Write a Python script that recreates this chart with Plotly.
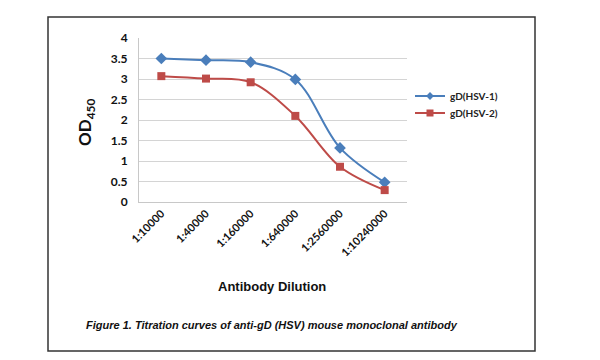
import plotly.graph_objects as go

dilutions = ["1:10000", "1:40000", "1:160000", "1:640000", "1:2560000", "1:10240000"]
hsv1 = [3.50, 3.46, 3.41, 2.99, 1.32, 0.48]
hsv2 = [3.07, 3.01, 2.92, 2.10, 0.86, 0.29]
y_ticks = [0, 0.5, 1, 1.5, 2, 2.5, 3, 3.5, 4]
y_tick_labels = ["0", "0.5", "1", "1.5", "2", "2.5", "3", "3.5", "4"]

# page body has an 8px margin; work in reference pixel coords and shift
OFF = 8
W, H = 600 - OFF, 360 - OFF
L, R, T, B = 139 - OFF, 407 - OFF, 38 - OFF, 202 - OFF


def px(x):
    return (x - OFF - L) / (R - L)


def py(y):
    return (B - (y - OFF)) / (B - T)


BLUE = "#4A7EBB"
RED = "#BE4B48"

fig = go.Figure()
fig.add_trace(go.Scatter(
    x=dilutions, y=hsv1, name="gD(HSV-1)", mode="lines+markers", showlegend=False,
    line=dict(color=BLUE, width=2, shape="spline", smoothing=1),
    marker=dict(symbol="diamond", size=9, color=BLUE),
))
fig.add_trace(go.Scatter(
    x=dilutions, y=hsv2, name="gD(HSV-2)", mode="lines+markers", showlegend=False,
    line=dict(color=RED, width=2, shape="spline", smoothing=1),
    marker=dict(symbol="square", size=8, color=RED),
))
# legend entries with smaller symbols, as in the reference
fig.add_trace(go.Scatter(
    x=[None], y=[None], name="gD(HSV-1)", mode="lines+markers", legend="legend",
    line=dict(color=BLUE, width=2), marker=dict(symbol="diamond", size=6, color=BLUE),
))
fig.add_trace(go.Scatter(
    x=[None], y=[None], name="gD(HSV-2)", mode="lines+markers", legend="legend2",
    line=dict(color=RED, width=2), marker=dict(symbol="square", size=7, color=RED),
))

legend_common = dict(xanchor="left", yanchor="middle",
                     font=dict(family="Lato", size=10, color="#222", weight="bold"),
                     bgcolor="rgba(0,0,0,0)", itemwidth=30)

fig.update_layout(
    width=W, height=H,
    margin=dict(l=L, r=W - R, t=T, b=H - B),
    paper_bgcolor="white", plot_bgcolor="white",
    showlegend=True,
    legend=dict(x=px(410), y=py(96), **legend_common),
    legend2=dict(x=px(410), y=py(113), **legend_common),
    xaxis=dict(type="category", range=[-0.5, 5.5], tickangle=-45,
               tickvals=dilutions, ticktext=["<b>%s</b>" % d for d in dilutions],
               tickfont=dict(family="Lato", size=11, color="#111"),
               showgrid=False, showline=True, linecolor="#C8C8C8", linewidth=1,
               ticks=""),
    yaxis=dict(range=[0, 4], tickvals=y_ticks, ticktext=["<b>%s</b>" % t for t in y_tick_labels],
               tickfont=dict(family="Lato", size=12, color="#111"),
               showgrid=True, gridcolor="#D4D4D4", gridwidth=1,
               showline=True, linecolor="#C8C8C8", linewidth=1,
               zeroline=False, ticks="", ticklabelstandoff=8),
    shapes=[dict(type="rect", xref="paper", yref="paper",
                 x0=px(48), x1=px(535), y0=py(351), y1=py(17),
                 line=dict(color="#333", width=1.5), fillcolor="rgba(0,0,0,0)")],
    annotations=[
        dict(text="<b>OD<sub>450</sub></b>", xref="paper", yref="paper",
             x=px(86), y=py(123), textangle=-90, showarrow=False,
             font=dict(family="Lato", size=17, color="#111"),
             xanchor="center", yanchor="middle"),
        dict(text="<b>Antibody Dilution</b>", xref="paper", yref="paper",
             x=px(272), y=py(286), showarrow=False,
             font=dict(family="Liberation Sans", size=13, color="#111"),
             xanchor="center", yanchor="middle"),
        dict(text="<b><i>Figure 1. Titration curves of anti-gD (HSV) mouse monoclonal antibody</i></b>",
             xref="paper", yref="paper", x=px(84), y=py(325), showarrow=False,
             font=dict(family="Liberation Sans", size=11, color="#111"),
             xanchor="left", yanchor="middle"),
    ],
)

fig.write_html("out.html")
